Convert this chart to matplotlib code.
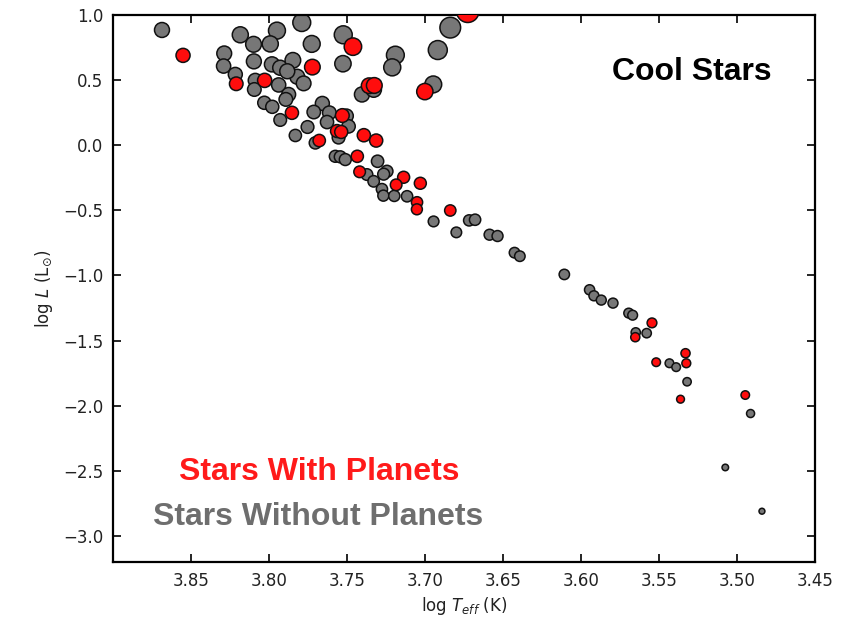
import numpy as np
import matplotlib
matplotlib.use("Agg")
import matplotlib.pyplot as plt

# Stars without known planets: log Teff (K), log L (Lsun)
nopl_logT = [3.8686, 3.8184, 3.7949, 3.7790, 3.8099, 3.7992, 3.7726, 3.7524, 3.6838, 3.6918,
             3.7190, 3.7210, 3.7526, 3.8287, 3.8291, 3.8097, 3.7981, 3.7928, 3.7847, 3.8216,
             3.8088, 3.8094, 3.7938, 3.7819, 3.7778, 3.7874, 3.7892, 3.8030, 3.7979, 3.7928,
             3.7404, 3.7329, 3.6947, 3.7658, 3.7713, 3.7613, 3.7504, 3.7628, 3.7753, 3.7831,
             3.7490, 3.7554, 3.7703, 3.7575, 3.7543, 3.7511, 3.7304, 3.7244, 3.7265, 3.7372,
             3.7329, 3.7276, 3.7267, 3.7197, 3.7115, 3.6945, 3.6799, 3.6717, 3.6679, 3.6586,
             3.6535, 3.6426, 3.6392, 3.6107, 3.5945, 3.5917, 3.5870, 3.5795, 3.5694, 3.5669,
             3.5649, 3.5579, 3.5433, 3.5390, 3.5320, 3.4913, 3.5075, 3.4840, 3.7883]
nopl_logL = [0.885, 0.848, 0.880, 0.942, 0.775, 0.778, 0.778, 0.848, 0.903, 0.731,
             0.692, 0.598, 0.626, 0.705, 0.608, 0.644, 0.621, 0.595, 0.652, 0.544,
             0.498, 0.428, 0.463, 0.526, 0.475, 0.390, 0.352, 0.326, 0.295, 0.194,
             0.390, 0.428, 0.467, 0.321, 0.255, 0.249, 0.225, 0.178, 0.140, 0.075,
             0.145, 0.059, 0.018, -0.085, -0.089, -0.110, -0.123, -0.200, -0.222, -0.225,
             -0.277, -0.337, -0.387, -0.389, -0.392, -0.585, -0.669, -0.577, -0.572, -0.687,
             -0.697, -0.825, -0.852, -0.992, -1.110, -1.156, -1.189, -1.212, -1.289, -1.305,
             -1.437, -1.443, -1.674, -1.704, -1.816, -2.060, -2.474, -2.810, 0.568]

# Stars hosting planets
pl_logT = [3.8551, 3.8210, 3.8028, 3.7722, 3.7462, 3.6726, 3.7358, 3.7325, 3.7001, 3.7853,
           3.7530, 3.7678, 3.7564, 3.7537, 3.7392, 3.7313, 3.7434, 3.7419, 3.7137, 3.7185,
           3.7030, 3.7051, 3.7052, 3.6838, 3.5545, 3.5652, 3.5518, 3.5330, 3.5325, 3.5362,
           3.4947]
pl_logL = [0.690, 0.472, 0.498, 0.600, 0.757, 1.028, 0.457, 0.459, 0.412, 0.249,
           0.228, 0.036, 0.109, 0.102, 0.077, 0.036, -0.085, -0.204, -0.246, -0.304,
           -0.292, -0.438, -0.492, -0.501, -1.364, -1.474, -1.666, -1.597, -1.674, -1.950,
           -1.918]

LOG_TSUN = 3.7613


def marker_area(logT, logL):
    """Marker area grows with stellar radius from Stefan-Boltzmann."""
    logT = np.asarray(logT)
    logL = np.asarray(logL)
    radius = 10 ** (0.5 * logL - 2.0 * (logT - LOG_TSUN))
    return 78.0 * radius ** 0.75


fig = plt.figure(figsize=(8.59, 6.20), dpi=100)
ax = fig.add_axes([113 / 859, 1 - 562 / 620, (815 - 113) / 859, (562 - 15) / 620])

gray = "#777777"
red = "#ff0d0d"

ax.scatter(nopl_logT, nopl_logL, s=marker_area(nopl_logT, nopl_logL),
           c=gray, edgecolors="#111111", linewidths=1.1, zorder=2)
ax.scatter(pl_logT, pl_logL, s=marker_area(pl_logT, pl_logL),
           c=red, edgecolors="#111111", linewidths=1.1, zorder=3)

ax.set_xlim(3.90, 3.45)
ax.set_ylim(-3.2, 1.0)
ax.set_xticks(np.arange(3.85, 3.449, -0.05))
ax.set_xticklabels([f"{v:.2f}" for v in np.arange(3.85, 3.449, -0.05)])
ax.set_yticks(np.arange(-3.0, 1.01, 0.5))
ax.set_yticklabels([f"{v:.1f}".replace("-", "\u2212") for v in np.arange(-3.0, 1.01, 0.5)])

ax.tick_params(direction="in", top=True, right=True, length=6, width=1.2,
               labelsize=12, pad=7, color="black", labelcolor="#222222")
for sp in ax.spines.values():
    sp.set_linewidth(1.6)

ax.set_xlabel(r"log $T_{eff}$ (K)", fontsize=12, labelpad=4, color="#222222")
ax.set_ylabel(r"log $L$ (L$_{\odot}$)", fontsize=12, labelpad=6, color="#222222")

txt_font = ["Liberation Sans", "DejaVu Sans"]
ax.text(692 / 859, 1 - 72 / 620, "Cool Stars", transform=fig.transFigure,
        ha="center", va="center", fontsize=23, fontweight="bold",
        family=txt_font, color="black")
ax.text(319 / 859, 1 - 472 / 620, "Stars With Planets", transform=fig.transFigure,
        ha="center", va="center", fontsize=23, fontweight="bold",
        family=txt_font, color="#ff1a1a")
ax.text(318 / 859, 1 - 517 / 620, "Stars Without Planets", transform=fig.transFigure,
        ha="center", va="center", fontsize=23, fontweight="bold",
        family=txt_font, color="#6e6e6e")

fig.savefig("out.png", dpi=100)
